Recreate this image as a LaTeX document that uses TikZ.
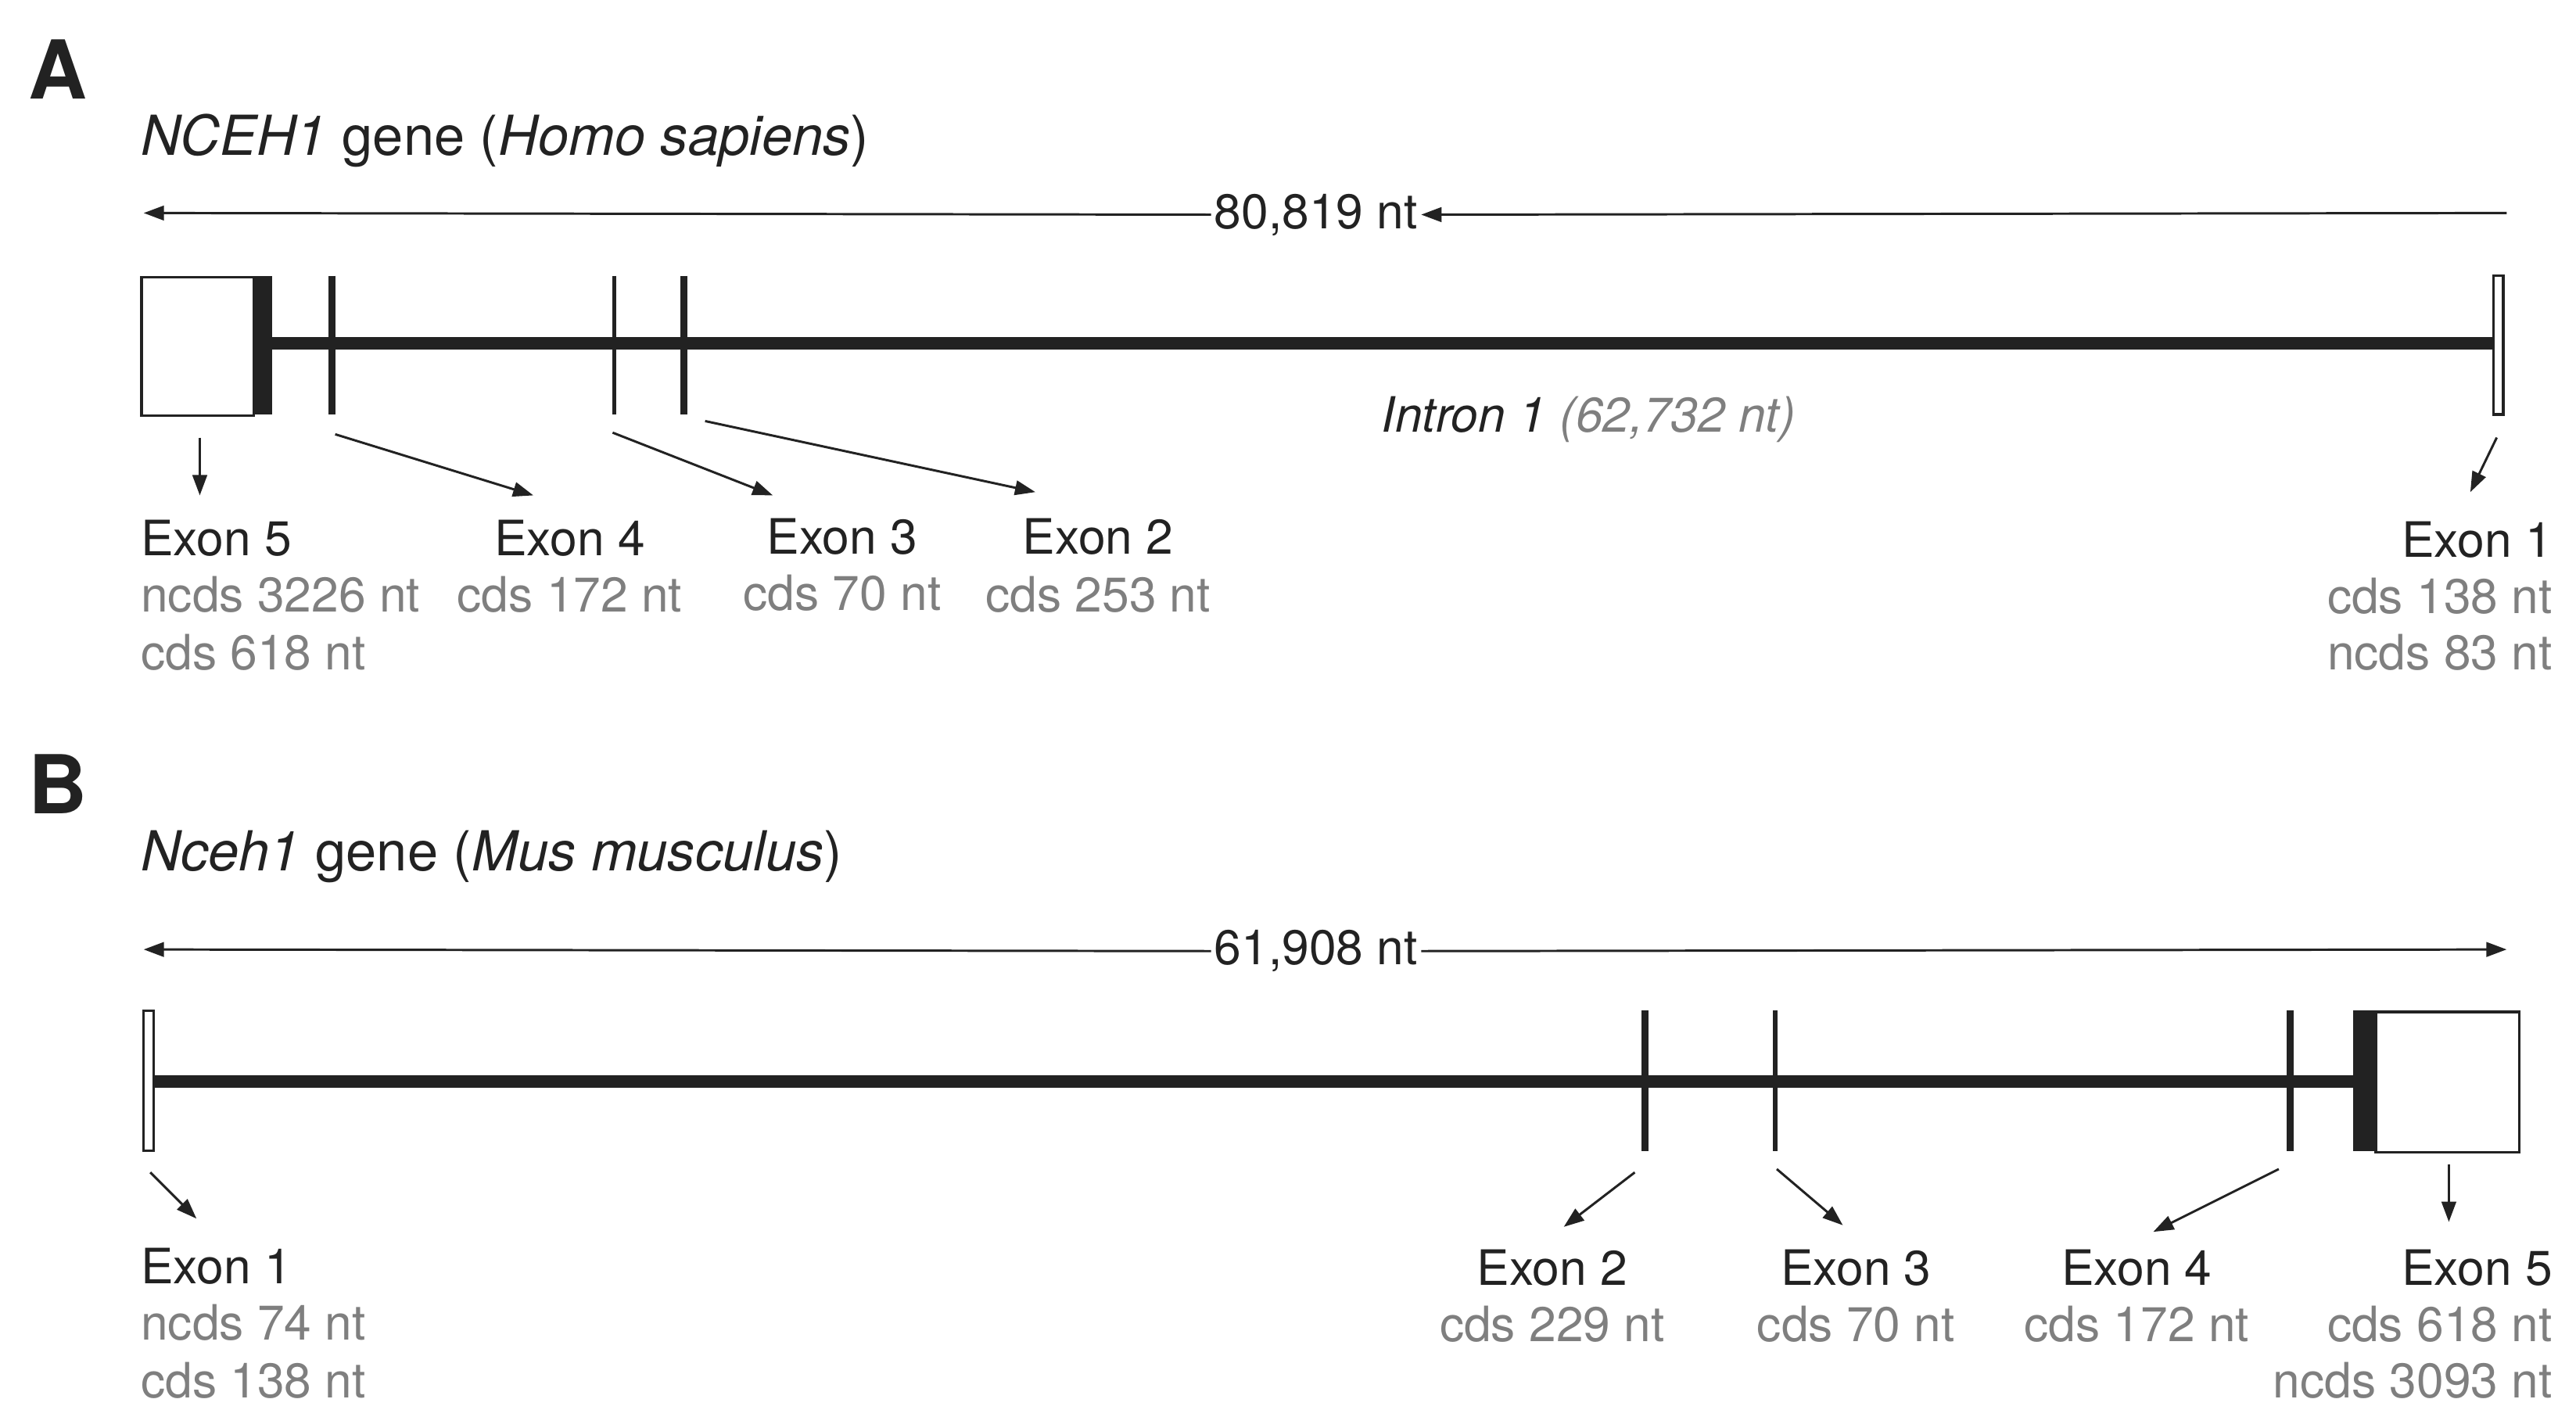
\documentclass[tikz,border=0pt]{standalone}
\usepackage{fontspec}
\setmainfont{TeX Gyre Heros}
\usetikzlibrary{arrows.meta}
\definecolor{ink}{HTML}{222222}
\definecolor{gr}{HTML}{7F7F7F}
\begin{document}
\begin{tikzpicture}[x=0.02cm,y=-0.02cm,
  lbl/.style={font=\fontsize{16.8pt}{20pt}\selectfont,text=ink,inner sep=0pt},
  glbl/.style={font=\fontsize{16.8pt}{20pt}\selectfont,text=gr,inner sep=0pt},
  ttl/.style={font=\fontsize{19pt}{22pt}\selectfont,text=ink,inner sep=0pt,anchor=west},
  pan/.style={font=\fontsize{28pt}{30pt}\selectfont\bfseries,text=ink,inner sep=0pt},
  intron/.style={ink,line width=4.4pt},
  thinex/.style={ink,line width=1.5pt},
  thickex/.style={ink,line width=2.4pt},
  ptr/.style={ink,line width=0.8pt,-{Triangle[length=7pt,width=5pt]}},
  span/.style={ink,line width=0.8pt,-{Triangle[length=7pt,width=5pt]}},
  openbox/.style={draw=ink,line width=0.9pt,fill=white}]
\useasboundingbox (0,0) rectangle (1560,858);
% ---------- A ----------
\node[pan] (pA) at (35,42) {A};
\node[ttl] (tA) at (85,85) {\textit{NCEH1} gene (\textit{Homo sapiens})};
\coordinate (aR) at (1518,129); \coordinate (aL) at (87,129);
\node[lbl,fill=white,inner xsep=1pt] (lenA) at (797,130) {80,819 nt};
\draw[span] (aR) -- (lenA.east); \draw[span] (lenA.west) -- (aL);
\draw[intron] (160,208) -- (1510,208);
\node[openbox,minimum width=68*0.02cm,minimum height=84*0.02cm,anchor=north west,inner sep=0pt] (a5b) at (85,167) {};
\fill[ink] (153,167) rectangle (165,251);
\coordinate (a5) at (121,265);
\draw[thickex] (201,167) -- (201,251); \coordinate (a4) at (203,263);
\draw[thinex] (372,167) -- (372,251); \coordinate (a3) at (371,262);
\draw[thickex] (414,167) -- (414,251); \coordinate (a2) at (427,255);
\draw[openbox] (1510,167) rectangle (1516,251); \coordinate (a1) at (1512,265);
\node[lbl] (intA) at (962,254) {\textit{Intron 1} \textcolor{gr}{\textit{(62,732 nt)}}};
\coordinate (a5t) at (121,300); \coordinate (a4t) at (323,300);
\coordinate (a3t) at (468,300); \coordinate (a2t) at (627,298); \coordinate (a1t) at (1496,298);
\draw[ptr] (a5) -- (a5t); \draw[ptr] (a4) -- (a4t); \draw[ptr] (a3) -- (a3t);
\draw[ptr] (a2) -- (a2t); \draw[ptr] (a1) -- (a1t);
\node[lbl,anchor=west] (e5A) at (85,326) {Exon 5};
\node[glbl,anchor=west] (e5An) at (85,360) {ncds 3226 nt};
\node[glbl,anchor=west] (e5Ac) at (85,395) {cds 618 nt};
\node[lbl] (e4A) at (345,326) {Exon 4};
\node[glbl] (e4Ac) at (345,360) {cds 172 nt};
\node[lbl] (e3A) at (510,325) {Exon 3};
\node[glbl] (e3Ac) at (510,359) {cds 70 nt};
\node[lbl] (e2A) at (665,325) {Exon 2};
\node[glbl] (e2Ac) at (665,360) {cds 253 nt};
\node[lbl,anchor=east] (e1A) at (1546,327) {Exon 1};
\node[glbl,anchor=east] (e1Ac) at (1546,361) {cds 138 nt};
\node[glbl,anchor=east] (e1An) at (1546,395) {ncds 83 nt};
% ---------- B ----------
\node[pan] (pB) at (35,475) {B};
\node[ttl] (tB) at (85,519) {\textit{Nceh1} gene (\textit{Mus musculus})};
\coordinate (bL) at (87,575); \coordinate (bR) at (1518,575);
\node[lbl,fill=white,inner xsep=1pt] (lenB) at (797,576) {61,908 nt};
\draw[span] (lenB.east) -- (bR); \draw[span] (lenB.west) -- (bL);
\draw[intron] (93,655) -- (1430,655);
\draw[openbox] (87,612) rectangle (93,697);
\draw[thickex] (996,612) -- (996,697);
\draw[thinex] (1075,612) -- (1075,697);
\draw[thickex] (1387,612) -- (1387,697);
\node[openbox,minimum width=87*0.02cm,minimum height=85*0.02cm,anchor=north west,inner sep=0pt] (b5b) at (1438,612) {};
\fill[ink] (1425,612) rectangle (1438,697);
\coordinate (b1) at (91,710); \coordinate (b1t) at (119,738);
\coordinate (b2) at (990,710); \coordinate (b2t) at (947,743);
\coordinate (b3) at (1076,708); \coordinate (b3t) at (1116,742);
\coordinate (b4) at (1380,708); \coordinate (b4t) at (1304,746);
\coordinate (b5) at (1483,705); \coordinate (b5t) at (1483,740);
\draw[ptr] (b1) -- (b1t); \draw[ptr] (b2) -- (b2t); \draw[ptr] (b3) -- (b3t);
\draw[ptr] (b4) -- (b4t); \draw[ptr] (b5) -- (b5t);
\node[lbl,anchor=west] (e1B) at (85,767) {Exon 1};
\node[glbl,anchor=west] (e1Bn) at (85,801) {ncds 74 nt};
\node[glbl,anchor=west] (e1Bc) at (85,836) {cds 138 nt};
\node[lbl] (e2B) at (940,768) {Exon 2};
\node[glbl] (e2Bc) at (940,802) {cds 229 nt};
\node[lbl] (e3B) at (1124,768) {Exon 3};
\node[glbl] (e3Bc) at (1124,802) {cds 70 nt};
\node[lbl] (e4B) at (1294,768) {Exon 4};
\node[glbl] (e4Bc) at (1294,802) {cds 172 nt};
\node[lbl,anchor=east] (e5B) at (1546,768) {Exon 5};
\node[glbl,anchor=east] (e5Bc) at (1546,802) {cds 618 nt};
\node[glbl,anchor=east] (e5Bn) at (1546,836) {ncds 3093 nt};
\end{tikzpicture}
\end{document}
